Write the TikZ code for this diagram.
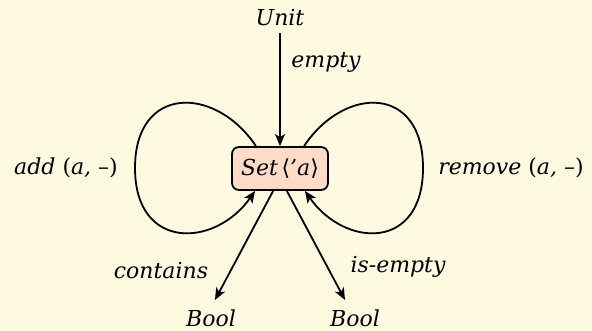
\documentclass[tikz,border=0pt]{standalone}
\usepackage{fontspec}
\setmainfont{DejaVu Serif}
\newfontfamily\symf{DejaVu Sans}
\usetikzlibrary{arrows.meta}
\definecolor{bg}{HTML}{FDFADF}
\definecolor{nodefill}{HTML}{FCDCC6}
\newcommand{\up}[1]{{\upshape #1}}
\begin{document}
\begin{tikzpicture}[x=1pt,y=-1pt,
  every node/.style={font=\fontsize{22}{26}\selectfont\itshape},
  setbox/.style={draw,line width=1.8pt,fill=nodefill,rounded corners=7pt,minimum width=96pt,minimum height=43pt,inner sep=2pt},
  conn/.style={line width=1.8pt,-{Stealth[length=12pt,width=10pt,inset=3pt]}},
  lbl/.style={inner sep=0pt}]
\fill[bg] (0,0) rectangle (592,331);
\useasboundingbox (0,0) rectangle (592,331);
\node[setbox] (s) at (280,168.5) {Set\,{\symf\upshape ⟨}'a{\symf\upshape ⟩}};
\node[lbl] (unit) at (280,18) {Unit};
\node[lbl] (b1) at (211,318) {Bool};
\node[lbl] (b2) at (355,318) {Bool};
\coordinate (uend) at (280,33);
\coordinate (c1) at (215,300);
\coordinate (c2) at (345,300);
\draw[conn] (uend) -- (s.north);
\draw[conn] (s.253) -- (c1);
\draw[conn] (s.287) -- (c2);
\coordinate (ltip) at (135,168);
\coordinate (rtip) at (423,168);
\draw[conn] (s.137) .. controls (215,85) and (135,85) .. (ltip)
  .. controls (135,251) and (215,248) .. (s.222);
\draw[conn] (s.43) .. controls (345,85) and (423,85) .. (rtip)
  .. controls (423,251) and (345,248) .. (s.318);
\node[lbl] (le) at (326,62) {empty};
\node[lbl] (la) at (66,168) {add \up{(}a, \up{–)}};
\node[lbl] (lr) at (511,168) {remove \up{(}a, \up{–)}};
\node[lbl] (lc) at (161,271) {contains};
\node[lbl] (li) at (398,267) {is-empty};
\end{tikzpicture}
\end{document}
